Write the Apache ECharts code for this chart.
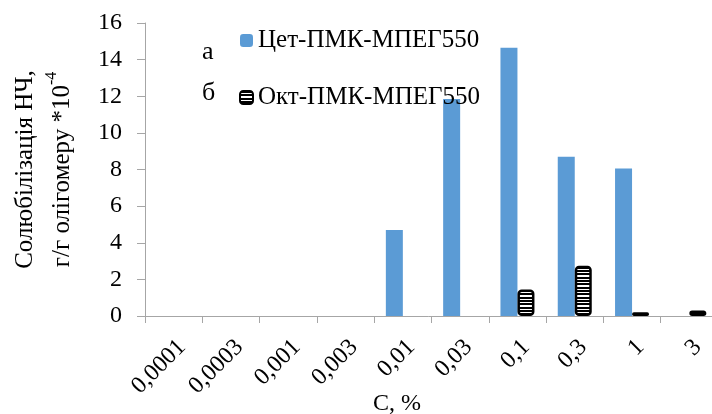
<!DOCTYPE html>
<html><head><meta charset="utf-8">
<script src="https://cdn.jsdelivr.net/npm/echarts@6/dist/echarts.min.js"></script>
<style>html,body{margin:0;padding:0;background:#fff}#c{width:712px;height:414px}</style>
</head><body><div id="c"></div>
<script>
const categories = ['0,0001','0,0003','0,001','0,003','0,01','0,03','0,1','0,3','1','3'];
const seriesNames = ['Цет-ПМК-МПЕГ550','Окт-ПМК-МПЕГ550'];
const cetValues = [null,null,null,null,4.7,11.85,14.65,8.7,8.05,null];
const oktValues = [null,null,null,null,null,null,1.45,2.75,0.2,0.3];
const yMin = 0, yMax = 16, yInterval = 2;
const xTitle = 'С, %';
const yTitleLine1 = 'Солюбілізація НЧ,';
const yTitleLine2 = 'г/г олігомеру *10';
const yTitleSup = '-4';
const legendLetters = ['а','б'];

// horizontal stripe pattern (fill texture)
const pc = document.createElement('canvas');
pc.width = 4; pc.height = 10;
const pctx = pc.getContext('2d');
pctx.fillStyle = '#fff'; pctx.fillRect(0,0,4,10);
pctx.fillStyle = '#000';
[0,1,3,4,7,8].forEach(r => pctx.fillRect(0,r,4,1));

const FONT = 'Liberation Serif';
const chart = echarts.init(document.getElementById('c'), null, {renderer:'canvas'});
chart.setOption({
  animation:false,
  backgroundColor:'#fff',
  textStyle:{fontFamily:FONT},
  grid:{left:145, top:23, width:573, height:293, containLabel:false, outerBoundsMode:'none'},
  legend:{
    orient:'vertical', left:234, top:23, itemWidth:13, itemHeight:13, itemGap:32,
    textStyle:{fontFamily:FONT, fontSize:25, color:'#000'},
    data:seriesNames
  },
  graphic:[
    {type:'text', left:202, top:39, style:{text:legendLetters[0], fontFamily:FONT, fontSize:26, fill:'#000'}},
    {type:'text', left:202, top:80, style:{text:legendLetters[1], fontFamily:FONT, fontSize:26, fill:'#000'}}
  ],
  title:{text:xTitle, left:368, top:387, textStyle:{fontFamily:FONT, fontSize:24, fontWeight:'normal', color:'#000'}},
  xAxis:{
    type:'category', data:categories, boundaryGap:true,
    axisLine:{show:true, lineStyle:{color:'#a6a6a6', width:1}},
    axisTick:{show:true, interval:0, length:7, lineStyle:{color:'#a6a6a6'}},
    axisLabel:{interval:0, rotate:45, margin:19, align:'right', verticalAlign:'top',
      fontFamily:FONT, fontSize:24, color:'#000'}
  },
  yAxis:{
    type:'value', min:yMin, max:yMax, interval:yInterval,
    splitLine:{show:false},
    axisLine:{show:true, lineStyle:{color:'#a6a6a6', width:1}},
    axisTick:{show:true, length:8, inside:false, lineStyle:{color:'#a6a6a6'}},
    axisLabel:{margin:23, fontFamily:FONT, fontSize:24, color:'#000'},
    name:'{a|'+yTitleLine1+'}\n{a|'+yTitleLine2+'}{s|'+yTitleSup+'}',
    nameLocation:'middle', nameRotate:90, nameGap:64,
    nameTextStyle:{
      fontFamily:FONT, fontSize:25, color:'#000', align:'center',
      rich:{
        a:{fontFamily:FONT, fontSize:25, color:'#000', lineHeight:37},
        s:{fontFamily:FONT, fontSize:16, color:'#000', lineHeight:37, verticalAlign:'top', padding:[0,0,10,0]}
      }
    }
  },
  series:[
    {name:seriesNames[0], type:'bar', data:cetValues, barWidth:17, barGap:'0%',
     itemStyle:{color:'#5b9bd5'}},
    {name:seriesNames[1], type:'bar', data:oktValues, barWidth:17,
     itemStyle:{color:{image:pc, repeat:'repeat'}, borderColor:'#000', borderWidth:2.5, borderRadius:3}}
  ]
});
</script></body></html>
